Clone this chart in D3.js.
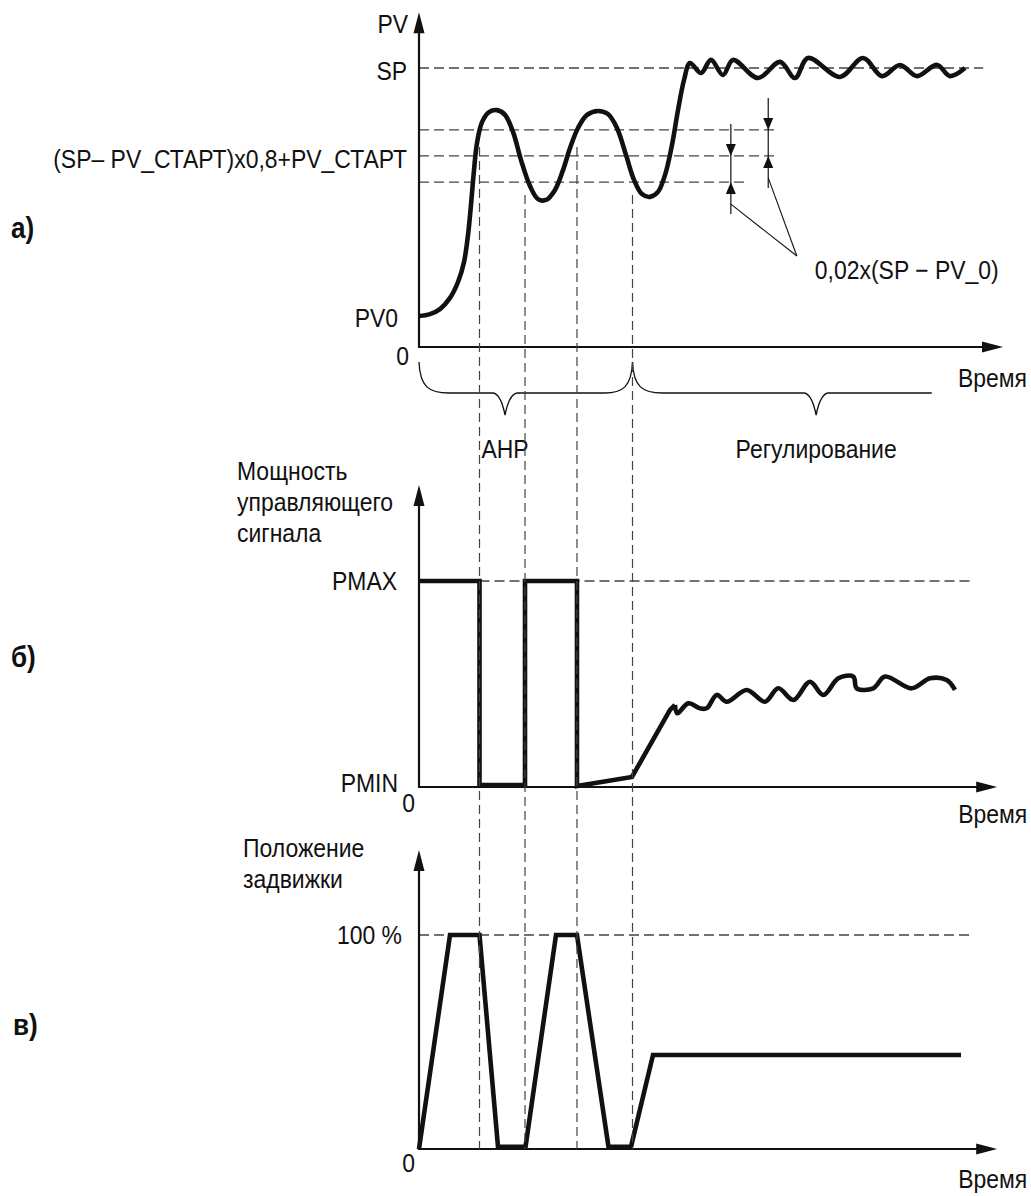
<!DOCTYPE html>
<html>
<head>
<meta charset="utf-8">
<script src="https://cdn.jsdelivr.net/npm/d3@7/dist/d3.min.js"></script>
<style>
body { margin: 0; background: #fff; }
text { font-family: "Liberation Sans", Arial, sans-serif; fill: #111; }
</style>
</head>
<body>
<div id="chart"></div>
<script>
// time is in arbitrary units 0..100 along every panel
// panel а) - process value
var pvTime = [0, 1.88, 3.6, 5.31, 6.68, 7.71, 8.39, 8.9, 9.42, 9.93, 10.79, 11.99, 13.36, 14.73,
    16.1, 17.47, 19.01, 20.38, 21.75, 23.29, 24.66, 25.86, 27.23, 28.77, 30.65, 32.36, 33.9,
    35.45, 36.82, 38.18, 39.55, 40.92, 42.12, 43.32, 44.35, 45.38, 46.4, 48.29, 50.0, 52.05,
    53.77, 58.05, 61.82, 64.38, 66.61, 72.09, 76.03, 79.28, 82.36, 85.27, 88.7, 90.92, 93.49];
var pvValue = [11.1, 11.8, 13.6, 17.6, 23.3, 30.5, 40.1, 50.9, 63.4, 73.1, 80.6, 84.2, 84.9, 83.2,
    77.1, 67.0, 57.7, 53.0, 52.7, 56.3, 63.4, 71.3, 78.5, 83.2, 84.6, 83.5, 78.5,
    68.8, 59.9, 54.8, 53.8, 55.6, 61.6, 72.4, 84.9, 95.7, 101.8, 98.2, 102.9, 97.5,
    102.9, 96.4, 102.2, 96.4, 103.6, 96.8, 103.6, 97.1, 101.1, 97.1, 101.1, 97.1, 100.0];
var pvTickLabels = ['SP', '(SP– PV_СТАРТ)x0,8+PV_СТАРТ', 'PV0'];
var pvTickValues = [100, 68.5, 11.1];
var pvGuideValues = [100, 77.8, 68.5, 59.1];
var pvGuideEnds = [96.6, 61.5, 61.5, 56.2];

// switching moments and where their guides start on the PV panel
var switchTimes = [10.36, 18.15, 27.05, 36.56];
var switchStartPV = [71.7, 54.5, 71.7, 54.5];

// hysteresis markers
var markerTimes = [53.4, 59.8];
var markerHigh = [68.5, 77.8];
var markerLow = [59.1, 68.5];
var calloutTime = 64.7, calloutValue = 32.6;
var calloutLabel = '0,02x(SP − PV_0)';

// phases under the time axis
var phaseNames = ['АНР', 'Регулирование'];
var phaseStart = [0, 36.56];
var phaseEnd = [36.56, 87.8];
var phaseTip = [14.73, 68.0];

// panel б) - control power
var powerTime = [0, 10.36, 10.36, 18.15, 18.15, 27.05, 27.05, 36.47, 42.98, 43.84];
var powerValue = [100, 100, 1, 1, 100, 100, 0.5, 4.9, 37.4, 39.8];
var powerWaveTime = [43.84, 44.23, 46.11, 48.12, 49.26, 50.98, 52.69, 56.11, 59.25, 61.52,
    64.09, 66.95, 69.23, 71.8, 74.37, 74.95, 77.79, 79.79, 84.37, 87.5, 90.36, 91.78];
var powerWaveValue = [39.8, 35.8, 40.6, 38.2, 38.2, 44.7, 41.4, 47.1, 41.4, 47.9,
    42.2, 51.1, 44.7, 52.8, 53.6, 47.9, 47.9, 53.6, 47.9, 52.8, 51.9, 47.1];
var powerTickLabels = ['PMAX', 'PMIN'];
var powerTickValues = [100, 0];

// panel в) - valve position
var valveTime = [0, 5.31, 10.36, 13.53, 18.24, 23.46, 27.05, 32.45, 36.3, 40.07, 92.81];
var valveValue = [0, 100, 100, 1, 1, 100, 100, 1, 1, 43.9, 43.9];
var valveTickLabels = ['100 %'];
var valveTickValues = [100];

var width = 1031, height = 1196;
var ink = '#111', guide = '#444';

var svg = d3.select('#chart').append('svg')
    .attr('width', width)
    .attr('height', height);

var x = d3.scaleLinear().domain([0, 100]).range([419, 1003]);
var yA = d3.scaleLinear().domain([0, 100]).range([347, 68]);
var yB = d3.scaleLinear().domain([0, 100]).range([787, 581]);
var yC = d3.scaleLinear().domain([0, 100]).range([1149, 935]);

var line = d3.line();

// the original lettering is a tall condensed face, so squeeze a regular one
function addText(str, px, py, anchor, size, weight) {
    return svg.append('text')
        .attr('transform', 'translate(' + px + ',' + py + ') scale(0.9,1)')
        .attr('text-anchor', anchor || 'start')
        .style('font-size', (size || 25.5) + 'px')
        .style('font-weight', weight || 'normal')
        .text(str);
}

function drawAxes(y, topValue, endTime) {
    var x0 = x(0), y0 = y(0), yTop = y(topValue), xEnd = x(endTime);
    svg.append('path')
        .attr('d', line([[x0, yTop + 12], [x0, y0], [xEnd - 12, y0]]))
        .attr('fill', 'none')
        .attr('stroke', ink)
        .attr('stroke-width', 2.2);
    svg.append('path')
        .attr('d', line([[x0, yTop], [x0 - 5.5, yTop + 21], [x0 + 5.5, yTop + 21]]) + 'Z')
        .attr('fill', ink);
    svg.append('path')
        .attr('d', line([[xEnd, y0], [xEnd - 21, y0 - 5.5], [xEnd - 21, y0 + 5.5]]) + 'Z')
        .attr('fill', ink);
}

function hGuide(y, v, t0, t1) {
    svg.append('path')
        .attr('d', line([[x(t0), y(v)], [x(t1), y(v)]]))
        .attr('stroke', guide)
        .attr('stroke-width', 1.3)
        .attr('stroke-dasharray', '10,5');
}

function thick(points, curve) {
    svg.append('path')
        .attr('d', d3.line().curve(curve || d3.curveLinear)(points))
        .attr('fill', 'none')
        .attr('stroke', ink)
        .attr('stroke-width', 4.6)
        .attr('stroke-linejoin', 'miter')
        .attr('stroke-linecap', 'butt');
}

// ---- panel а)
pvGuideValues.forEach(function(v, i) { hGuide(yA, v, 0, pvGuideEnds[i]); });
drawAxes(yA, 120, 100);
thick(pvTime.map(function(t, i) { return [x(t), yA(pvValue[i])]; }), d3.curveCatmullRom.alpha(0.5));

addText('PV', x(0) - 11, yA(120) + 21, 'end');
pvTickLabels.forEach(function(s, i) {
    var dx = i == 2 ? 21 : 12;
    addText(s, x(0) - dx, yA(pvTickValues[i]) + (i == 2 ? 11 : 12), 'end');
});
addText('0', x(0) - 10, yA(0) + 18, 'end');
addText('Время', x(100) + 24, yA(0) + 40, 'end');
addText('а)', 11, 238, 'start', 29, 'bold');

// hysteresis markers
markerTimes.forEach(function(t, i) {
    var mx = x(t), top = yA(markerHigh[i]), bot = yA(markerLow[i]);
    svg.append('path')
        .attr('d', line([[mx, top - 32], [mx, bot + 32]]))
        .attr('stroke', ink).attr('stroke-width', 1.2);
    svg.append('path')
        .attr('d', line([[mx, top], [mx - 5, top - 12], [mx + 5, top - 12]]) + 'Z')
        .attr('fill', ink);
    svg.append('path')
        .attr('d', line([[mx, bot], [mx - 5, bot + 12], [mx + 5, bot + 12]]) + 'Z')
        .attr('fill', ink);
    svg.append('path')
        .attr('d', line([[mx, bot + 22], [x(calloutTime), yA(calloutValue)]]))
        .attr('stroke', ink).attr('stroke-width', 1.1);
});
addText(calloutLabel, x(calloutTime) + 18, yA(calloutValue) + 23, 'start');

// phase braces
function brace(t0, t1, tip, curlRight) {
    var yTop = yA(0) + 15, yMid = yA(0) + 46, yTip = yA(0) + 68;
    var a = x(t0), b = x(t1), c = x(tip);
    var p = d3.path();
    p.moveTo(a, yTop);
    p.bezierCurveTo(a + 1, yMid - 6, a + 10, yMid, a + 30, yMid);
    p.lineTo(c - 12, yMid);
    p.bezierCurveTo(c - 5, yMid + 1, c - 2, yTip - 10, c, yTip);
    p.bezierCurveTo(c + 2, yTip - 10, c + 5, yMid + 1, c + 12, yMid);
    if (curlRight) {
        p.lineTo(b - 28, yMid);
        p.bezierCurveTo(b - 10, yMid, b - 1, yMid - 6, b, yTop);
    } else {
        p.lineTo(b, yMid);
    }
    svg.append('path')
        .attr('d', p.toString())
        .attr('fill', 'none')
        .attr('stroke', ink)
        .attr('stroke-width', 1.3);
}
phaseNames.forEach(function(name, i) {
    brace(phaseStart[i], phaseEnd[i], phaseTip[i], i == 0);
    addText(name, x(phaseTip[i]), yA(0) + 111, 'middle');
});

// ---- panel б)
hGuide(yB, 100, switchTimes[0], 94.5);
drawAxes(yB, 146.6, 99);
thick(powerTime.map(function(t, i) { return [x(t), yB(powerValue[i])]; }));
thick(powerWaveTime.map(function(t, i) { return [x(t), yB(powerWaveValue[i])]; }), d3.curveCatmullRom.alpha(0.5));
['Мощность', 'управляющего', 'сигнала'].forEach(function(s, i) {
    addText(s, 237, 480 + i * 31, 'start');
});
addText(powerTickLabels[0], x(0) - 22, yB(powerTickValues[0]) + 9, 'end');
addText(powerTickLabels[1], x(0) - 21, yB(powerTickValues[1]) + 5, 'end');
addText('0', x(0) - 4, yB(0) + 25, 'end');
addText('Время', x(99) + 30, yB(0) + 36, 'end');
addText('б)', 11, 667, 'start', 29, 'bold');

// ---- panel в)
hGuide(yC, 100, 0, 94.5);
drawAxes(yC, 139.7, 99);
thick(valveTime.map(function(t, i) { return [x(t), yC(valveValue[i])]; }));
['Положение', 'задвижки'].forEach(function(s, i) {
    addText(s, 243, 857 + i * 31, 'start');
});
addText(valveTickLabels[0], x(0) - 17, yC(valveTickValues[0]) + 9, 'end');
addText('0', x(0) - 4, yC(0) + 23, 'end');
addText('Время', x(99) + 30, yC(0) + 39, 'end');
addText('в)', 13, 1035, 'start', 29, 'bold');

// switching guides running through all three panels
switchTimes.forEach(function(t, i) {
    svg.append('path')
        .attr('d', line([[x(t), yA(switchStartPV[i])], [x(t), yC(0)]]))
        .attr('stroke', guide)
        .attr('stroke-width', 1.2)
        .attr('stroke-dasharray', '9,5');
});
</script>
</body>
</html>
